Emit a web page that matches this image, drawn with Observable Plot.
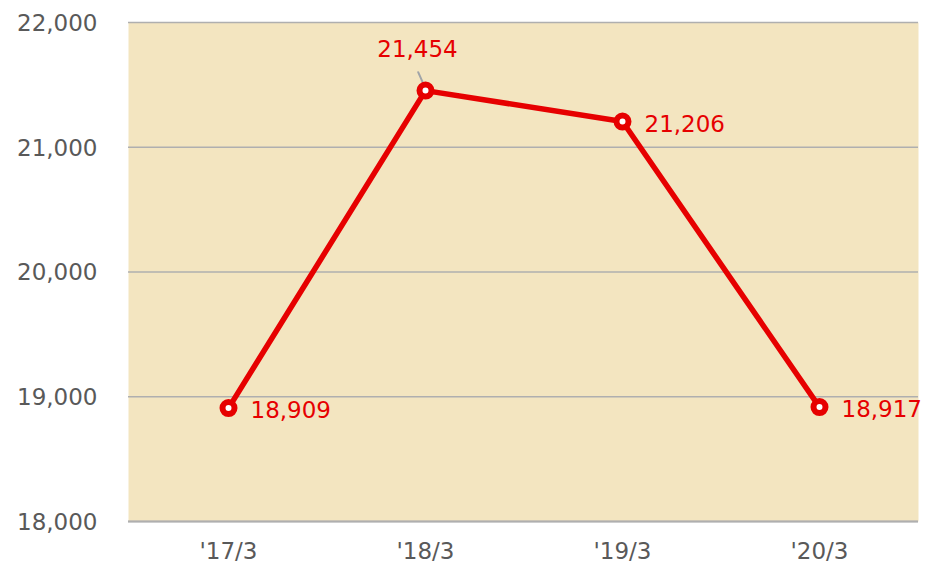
<!DOCTYPE html>
<html><head><meta charset="utf-8">
<script src="https://cdn.jsdelivr.net/npm/d3@7"></script>
<script src="https://cdn.jsdelivr.net/npm/@observablehq/plot@0.6"></script>
<style>body{margin:0;background:#fff;}</style>
</head><body><div id="chart"></div>
<script>
const periods = ["'17/3", "'18/3", "'19/3", "'20/3"];
const values = [18909, 21454, 21206, 18917];
const yTicks = [18000, 19000, 20000, 21000, 22000];
const labelSide = ["right", "top", "right", "right"];

const data = periods.map((p, i) => ({period: p, value: values[i], side: labelSide[i]}));
const fmt = d3.format(",");
const red = "#E60000";
const lineShape = {draw(context, l) { context.moveTo(0, 0); context.lineTo(0, -l); }};

const chart = Plot.plot({
  width: 930, height: 565,
  marginLeft: 128, marginRight: 12, marginTop: 22, marginBottom: 44,
  style: {fontFamily: "'DejaVu Sans', Verdana, sans-serif", fontSize: "23px", color: "#595959", background: "#fff"},
  x: {type: "point", domain: periods, padding: 0.5, label: null},
  y: {domain: [18000, 22000], ticks: yTicks, label: null, tickFormat: fmt},
  marks: [
    Plot.frame({fill: "#F3E5C0", stroke: null}),
    Plot.gridY(yTicks, {stroke: "#AFAFAF", strokeOpacity: 1, strokeWidth: 1.5}),
    Plot.ruleY([18000], {stroke: "#AFAFAF", strokeWidth: 2}),
    Plot.axisY({ticks: yTicks, tickSize: 0, tickPadding: 31, tickFormat: fmt, fontSize: 23, fill: "#595959", dy: 1}),
    Plot.axisX({tickSize: 0, tickPadding: 21, fontSize: 23, fill: "#595959"}),
    Plot.line(data, {x: "period", y: "value", stroke: red, strokeWidth: 5.5}),
    Plot.vector(data.filter(d => d.side === "top"), {x: "period", y: "value", length: 18, rotate: -24, anchor: "start", dy: -2,
      shape: lineShape, stroke: "#A0A4A8", strokeWidth: 2}),
    Plot.dot(data, {x: "period", y: "value", r: 6, fill: "white", stroke: red, strokeWidth: 6}),
    Plot.text(data.filter(d => d.side === "right"), {x: "period", y: "value", text: d => fmt(d.value), textAnchor: "start", dx: 22, dy: 3, fill: red, fontSize: 23}),
    Plot.text(data.filter(d => d.side === "top"), {x: "period", y: "value", text: d => fmt(d.value), textAnchor: "middle", dx: -8, dy: -41, fill: red, fontSize: 23})
  ]
});
document.getElementById("chart").appendChild(chart);
</script>
</body></html>
